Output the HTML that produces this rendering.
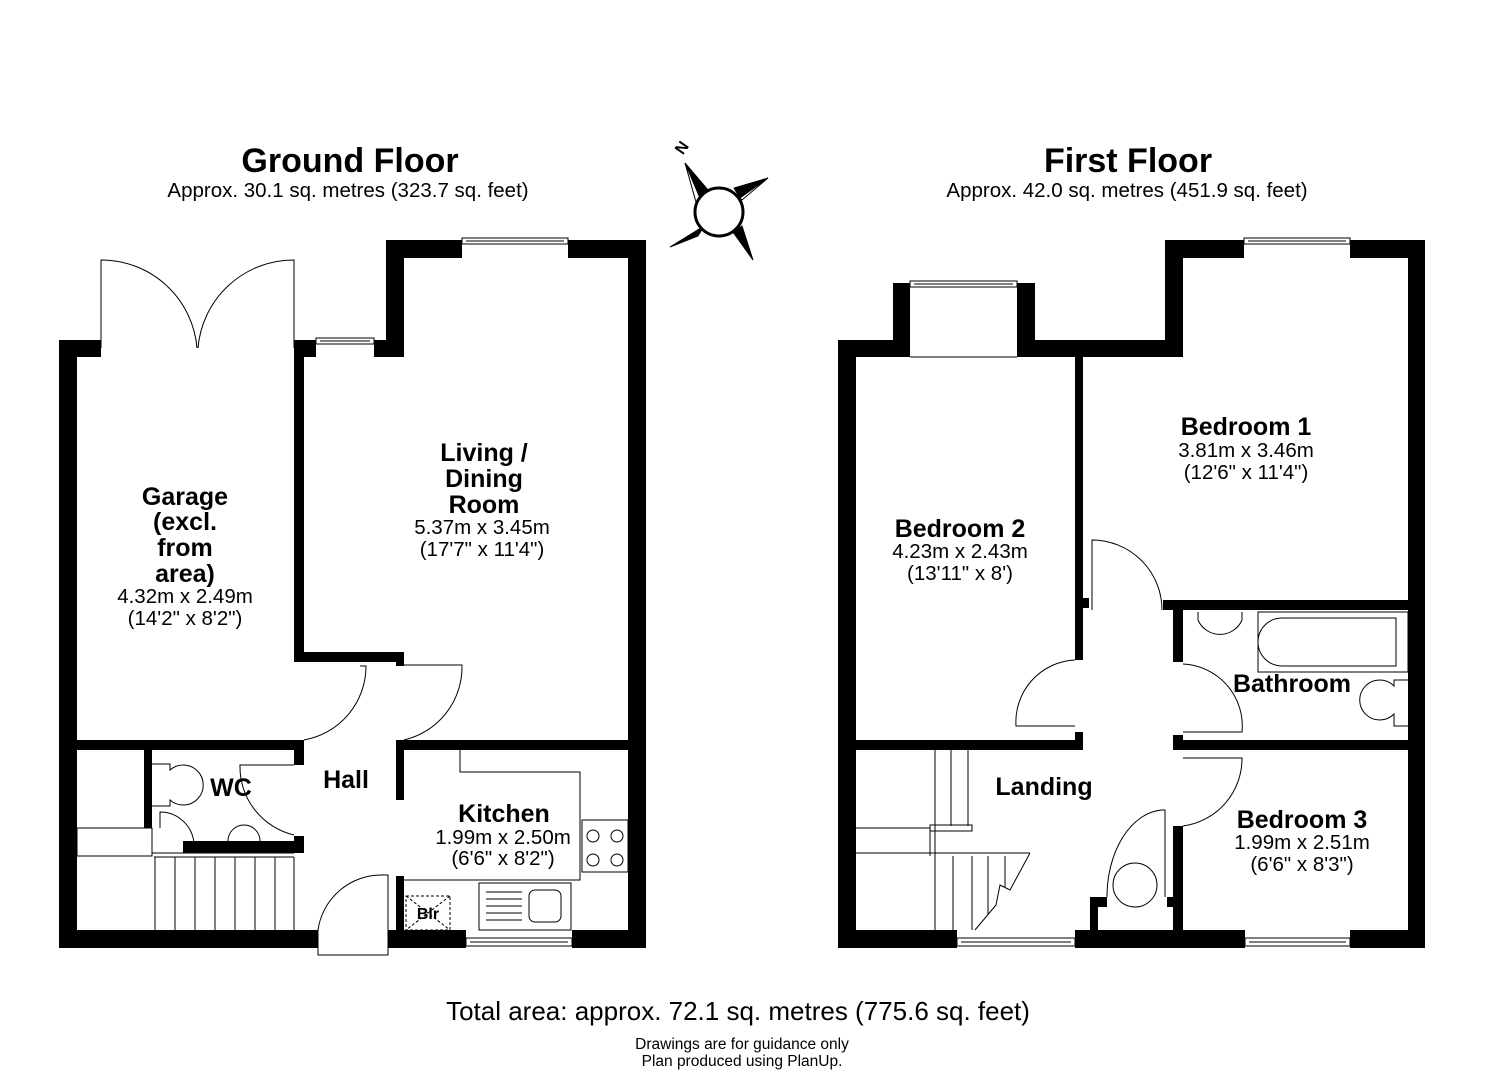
<!DOCTYPE html>
<html><head><meta charset="utf-8"><style>
html,body{margin:0;padding:0;background:#fff}
svg{display:block}
text{font-family:"Liberation Sans",Arial,sans-serif;fill:#000}
.b{font-weight:bold;font-size:25px}
.d{font-size:20.5px}
</style></head><body>
<svg width="1485" height="1080" viewBox="0 0 1485 1080" xmlns="http://www.w3.org/2000/svg">
<text x="350" y="172" text-anchor="middle" font-weight="bold" font-size="34">Ground Floor</text>
<text x="348" y="197" text-anchor="middle" font-size="20.5">Approx. 30.1 sq. metres (323.7 sq. feet)</text>
<text x="1128" y="172" text-anchor="middle" font-weight="bold" font-size="34">First Floor</text>
<text x="1127" y="197" text-anchor="middle" font-size="20.5">Approx. 42.0 sq. metres (451.9 sq. feet)</text>
<text x="738" y="1020" text-anchor="middle" font-size="26">Total area: approx. 72.1 sq. metres (775.6 sq. feet)</text>
<text x="742" y="1049" text-anchor="middle" font-size="15.5">Drawings are for guidance only</text>
<text x="742" y="1066" text-anchor="middle" font-size="15.5">Plan produced using PlanUp.</text>

<g stroke="#000" stroke-width="1">
<polygon points="685,163 708,190 700,198" fill="#000"/>
<polygon points="685,163 700,198 696,202" fill="#fff"/>
<polygon points="768,178 740,198 734,188" fill="#000"/>
<polygon points="768,178 742,200 740,198" fill="#fff"/>
<polygon points="670,247 704,226 698,236" fill="#000"/>
<polygon points="753,260 733,232 742,226" fill="#000"/>
<circle cx="719" cy="212" r="24" fill="#fff" stroke-width="3"/>
</g>
<text x="678" y="158" font-weight="bold" font-size="16" transform="rotate(-55 678 152)">N</text>

<g fill="#000">
<rect x="59" y="340" width="18" height="608"/>
<rect x="59" y="930" width="259" height="18"/>
<rect x="388" y="930" width="78" height="18"/>
<rect x="572" y="930" width="74" height="18"/>
<rect x="628" y="240" width="18" height="708"/>
<rect x="386" y="240" width="76" height="18"/>
<rect x="568" y="240" width="78" height="18"/>
<rect x="386" y="240" width="18" height="117"/>
<rect x="374" y="340" width="30" height="17"/>
<rect x="294" y="340" width="22" height="17"/>
<rect x="59" y="340" width="42" height="17"/>
<rect x="294" y="340" width="10" height="322"/>
<rect x="294" y="652" width="110" height="10"/>
<rect x="396" y="652" width="8" height="14"/>
<rect x="59" y="740" width="245" height="10"/>
<rect x="294" y="740" width="10" height="25"/>
<rect x="294" y="836" width="10" height="17"/>
<rect x="396" y="740" width="250" height="10"/>
<rect x="396" y="740" width="8" height="60"/>
<rect x="396" y="876" width="8" height="60"/>
<rect x="144" y="750" width="8" height="78"/>
<rect x="183" y="841" width="115" height="12"/>

<rect x="838" y="340" width="18" height="608"/>
<rect x="838" y="930" width="119" height="18"/>
<rect x="1075" y="930" width="170" height="18"/>
<rect x="1350" y="930" width="75" height="18"/>
<rect x="1408" y="240" width="17" height="708"/>
<rect x="1165" y="240" width="79" height="18"/>
<rect x="1350" y="240" width="75" height="18"/>
<rect x="1165" y="240" width="18" height="117"/>
<rect x="1017" y="340" width="166" height="17"/>
<rect x="1017" y="283" width="18" height="74"/>
<rect x="893" y="283" width="17" height="74"/>
<rect x="838" y="340" width="72" height="17"/>
<rect x="1075" y="357" width="8" height="303"/>
<rect x="1075" y="598" width="14" height="10"/>
<rect x="1075" y="732" width="8" height="18"/>
<rect x="838" y="740" width="245" height="10"/>
<rect x="1163" y="600" width="262" height="10"/>
<rect x="1173" y="600" width="10" height="62"/>
<rect x="1173" y="735" width="10" height="15"/>
<rect x="1173" y="740" width="252" height="10"/>
<rect x="1173" y="826" width="10" height="122"/>
<rect x="1090" y="897" width="8" height="45"/>
<rect x="1090" y="897" width="17" height="10"/>
<rect x="1167" y="897" width="16" height="10"/>
</g>

<g fill="none" stroke="#000" stroke-width="1">
<rect x="462" y="238" width="106" height="6"/><line x1="466" y1="241" x2="564" y2="241"/>
<rect x="316" y="338" width="58" height="6"/><line x1="320" y1="341" x2="370" y2="341"/>
<rect x="466" y="938" width="106" height="8"/><line x1="470" y1="942" x2="568" y2="942"/>
<path d="M101 348 V260 A96 96 0 0 1 197 348"/>
<path d="M294 348 V260 A96 96 0 0 0 198 348"/>
<path d="M304 740 A75 75 0 0 0 366 666 H360"/>
<path d="M404 665 H462 A75 75 0 0 1 404 740"/>
<path d="M318 955 V930 A64 64 0 0 1 382 875 H388 V955 Z"/>
<path d="M294 765 H240 A70 70 0 0 0 294 835"/>
<path d="M160 828 V812 A34 34 0 0 1 194 846"/>
<path d="M152 764 H170 V770 A20 20 0 1 1 170 800 V806 H152"/>
<path d="M228 841 A15 15 0 1 1 260 841"/>
<rect x="77" y="828" width="75" height="28"/>
<line x1="152" y1="853" x2="294" y2="853"/>
<line x1="154" y1="857" x2="294" y2="857"/>
<line x1="155" y1="857" x2="155" y2="930"/>
<line x1="175" y1="857" x2="175" y2="930"/>
<line x1="195" y1="857" x2="195" y2="930"/>
<line x1="215" y1="857" x2="215" y2="930"/>
<line x1="235" y1="857" x2="235" y2="930"/>
<line x1="255" y1="857" x2="255" y2="930"/>
<line x1="275" y1="857" x2="275" y2="930"/>
<line x1="294" y1="857" x2="294" y2="930"/>
<path d="M460 750 V772 H580 V880 H404"/>
<rect x="582" y="820" width="46" height="52"/>
<circle cx="593" cy="836" r="6"/><circle cx="617" cy="836" r="6"/>
<circle cx="593" cy="860" r="6"/><circle cx="617" cy="860" r="6"/>
<rect x="479" y="883" width="92" height="47"/>
<line x1="486" y1="892" x2="522" y2="892"/><line x1="486" y1="899" x2="522" y2="899"/>
<line x1="486" y1="906" x2="522" y2="906"/><line x1="486" y1="913" x2="522" y2="913"/>
<line x1="486" y1="920" x2="522" y2="920"/>
<rect x="529" y="890" width="32" height="32" rx="6"/>
<rect x="406" y="896" width="44" height="34" stroke-dasharray="3,2"/>
<line x1="406" y1="896" x2="450" y2="930" stroke-dasharray="3,2"/>
<line x1="450" y1="896" x2="406" y2="930" stroke-dasharray="3,2"/>

<rect x="1244" y="238" width="106" height="6"/><line x1="1248" y1="241" x2="1346" y2="241"/>
<rect x="910" y="281" width="107" height="6"/><line x1="914" y1="284" x2="1013" y2="284"/>
<rect x="957" y="938" width="118" height="8"/><line x1="961" y1="942" x2="1071" y2="942"/>
<rect x="1245" y="938" width="105" height="8"/><line x1="1249" y1="942" x2="1346" y2="942"/>
<line x1="910" y1="357" x2="1017" y2="357"/>
<path d="M1092 610 V540 A70 70 0 0 1 1162 610"/>
<path d="M1075 660 A62 62 0 0 0 1016 726 H1075"/>
<path d="M1183 664 A62 62 0 0 1 1242 732 H1183"/>
<path d="M1183 758 H1242 A68 68 0 0 1 1183 826"/>
<path d="M1107 897 A58 87 0 0 1 1162 810 H1165 V897"/>
<circle cx="1135" cy="885" r="22"/>
<path d="M1198 612 V620 A24 24 0 0 0 1242 620 V612"/>
<rect x="1258" y="612" width="150" height="60"/>
<path d="M1282 618 H1396 V666 H1282 A24 24 0 0 1 1282 618 Z"/>
<path d="M1408 680 H1394 V686 A20 20 0 1 0 1394 714 V726 H1408"/>
<line x1="935" y1="750" x2="935" y2="930"/>
<line x1="951" y1="750" x2="951" y2="826"/>
<line x1="968" y1="750" x2="968" y2="826"/>
<line x1="856" y1="828" x2="930" y2="828"/>
<rect x="930" y="825" width="42" height="6"/>
<line x1="856" y1="853" x2="1030" y2="853"/>
<line x1="930" y1="830" x2="930" y2="856"/>
<line x1="953" y1="856" x2="953" y2="930"/>
<line x1="972" y1="856" x2="972" y2="930"/>
<path d="M1030 853 L1010 890 L1000 885 L996 905 L975 930"/>
<line x1="988" y1="856" x2="988" y2="915"/>
<line x1="1005" y1="856" x2="1005" y2="887"/>
</g>

<g text-anchor="middle">
<text class="b" x="185" y="505">Garage</text>
<text class="b" x="185" y="530">(excl.</text>
<text class="b" x="185" y="556">from</text>
<text class="b" x="185" y="582">area)</text>
<text class="d" x="185" y="603">4.32m x 2.49m</text>
<text class="d" x="185" y="625">(14'2" x 8'2")</text>
<text class="b" x="484" y="461">Living /</text>
<text class="b" x="484" y="487">Dining</text>
<text class="b" x="484" y="513">Room</text>
<text class="d" x="482" y="534">5.37m x 3.45m</text>
<text class="d" x="482" y="556">(17'7" x 11'4")</text>
<text class="b" x="504" y="822">Kitchen</text>
<text class="d" x="503" y="844">1.99m x 2.50m</text>
<text class="d" x="503" y="865">(6'6" x 8'2")</text>
<text class="b" x="346" y="788">Hall</text>
<text class="b" x="231" y="796">WC</text>
<text x="428" y="919" font-weight="bold" font-size="16">Blr</text>
<text class="b" x="1246" y="435">Bedroom 1</text>
<text class="d" x="1246" y="457">3.81m x 3.46m</text>
<text class="d" x="1246" y="479">(12'6" x 11'4")</text>
<text class="b" x="960" y="537">Bedroom 2</text>
<text class="d" x="960" y="558">4.23m x 2.43m</text>
<text class="d" x="960" y="580">(13'11" x 8')</text>
<text class="b" x="1292" y="692">Bathroom</text>
<text class="b" x="1044" y="795">Landing</text>
<text class="b" x="1302" y="828">Bedroom 3</text>
<text class="d" x="1302" y="849">1.99m x 2.51m</text>
<text class="d" x="1302" y="871">(6'6" x 8'3")</text>
</g>
</svg>
</body></html>
